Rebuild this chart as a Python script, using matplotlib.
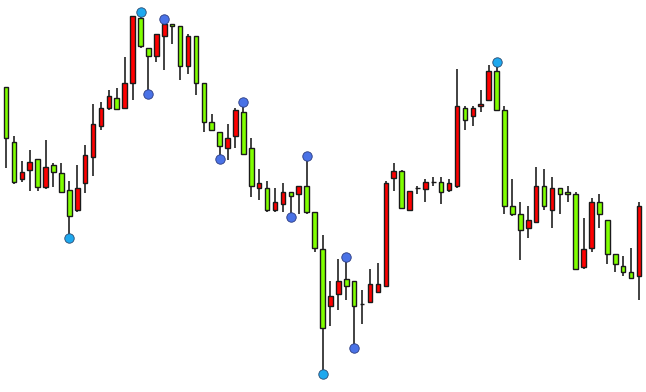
import matplotlib
matplotlib.use("Agg")
import matplotlib.pyplot as plt
import numpy as np

# OHLC series (price units)
opens = [305.3, 250.3, 212.7, 222.3, 232.7, 205.3, 226.7, 218.7, 201.7, 181.7,
         208.7, 234.7, 266.0, 283.7, 293.7, 283.7, 308.7, 373.7, 343.7, 336.3,
         356.0, 368.0, 366.0, 326.3, 356.3, 308.7, 270.0, 260.0, 244.3, 256.0,
         280.0, 244.3, 203.7, 203.7, 181.7, 187.7, 199.7, 197.7, 205.7, 179.7,
         142.7, 86.0, 98.0, 113.0, 111.0, 88.0, 89.7, 99.7, 105.7, 214.3,
         220.7, 181.7, 203.7, 203.3, 210.3, 210.3, 201.7, 205.7, 283.7, 275.7,
         285.7, 291.7, 320.7, 281.7, 185.7, 177.7, 163.7, 169.7, 205.7, 181.7,
         203.7, 199.7, 197.7, 124.7, 144.3, 189.7, 171.7, 138.3, 126.3, 120.3,
         116.3]
highs = [305.3, 256.3, 230.7, 242.3, 232.7, 252.3, 228.7, 228.7, 210.7, 226.7,
         246.7, 287.7, 289.7, 302.0, 303.7, 334.7, 376.0, 380.3, 344.3, 358.3,
         373.0, 368.0, 366.0, 358.3, 356.3, 308.7, 278.3, 260.0, 268.3, 283.7,
         290.0, 254.3, 222.7, 211.0, 203.7, 209.0, 199.7, 205.7, 236.3, 179.7,
         156.7, 111.0, 133.0, 135.0, 111.0, 101.7, 123.0, 129.0, 210.7, 228.7,
         222.0, 201.3, 206.0, 212.7, 214.7, 214.7, 212.7, 322.7, 285.7, 285.7,
         301.7, 326.7, 330.0, 285.7, 212.7, 189.7, 185.7, 224.7, 222.7, 214.7,
         203.7, 205.7, 199.7, 174.0, 193.7, 197.7, 171.7, 138.3, 136.3, 144.3,
         190.3]
lows = [224.3, 208.3, 210.0, 201.3, 201.3, 203.3, 205.3, 199.7, 153.7, 179.7,
        199.3, 216.3, 262.0, 281.7, 281.7, 283.7, 291.7, 343.7, 297.7, 330.0,
        322.0, 347.7, 312.0, 318.0, 297.3, 259.7, 262.0, 233.0, 232.3, 244.3,
        238.3, 195.3, 191.7, 179.7, 179.7, 179.7, 175.0, 177.7, 177.7, 139.7,
        18.0, 66.0, 81.7, 91.7, 44.3, 68.0, 89.7, 99.7, 105.7, 201.3,
        183.7, 181.7, 197.7, 189.7, 205.7, 187.7, 199.7, 203.7, 261.7, 265.7,
        279.7, 291.7, 281.7, 177.7, 175.7, 131.7, 153.7, 169.7, 181.7, 163.7,
        177.7, 189.7, 122.7, 122.7, 139.7, 163.7, 128.3, 120.3, 116.3, 114.3,
        91.7]
closes = [254.3, 210.3, 220.3, 230.3, 205.3, 224.7, 220.3, 199.7, 175.7, 203.7,
          236.7, 268.0, 284.0, 295.7, 283.3, 308.7, 376.0, 346.0, 336.3, 358.0,
          367.7, 366.0, 326.3, 356.0, 308.7, 269.7, 262.0, 246.0, 254.3, 282.0,
          238.3, 205.7, 209.0, 181.7, 189.7, 199.7, 195.7, 205.7, 179.7, 143.7,
          64.3, 96.0, 111.0, 105.7, 86.0, 88.0, 107.7, 107.7, 209.0, 220.7,
          183.7, 201.3, 203.7, 210.3, 210.3, 199.7, 208.7, 285.7, 271.7, 283.7,
          287.7, 320.7, 281.7, 185.7, 177.7, 161.7, 171.7, 205.7, 185.7, 203.7,
          197.7, 197.7, 122.7, 142.7, 189.7, 177.7, 138.3, 128.3, 120.3, 114.3,
          185.7]

# swing points: bar index lists
major_tops = [17, 62]
major_bottoms = [8, 40]
minor_tops = [20, 30, 38, 43]
minor_bottoms = [18, 27, 36, 44]

UP_COLOR = "#ff0000"
DOWN_COLOR = "#80ff00"
WICK_COLOR = "#333333"
MAJOR_COLOR = "#1ea8ee"
MINOR_COLOR = "#4a72e6"

o = np.array(opens)
h = np.array(highs)
l = np.array(lows)
c = np.array(closes)
x = np.arange(len(o))

fig = plt.figure(figsize=(6.46, 3.92), dpi=100)
ax = fig.add_axes([0, 0, 1, 1])
ax.set_facecolor("white")

ax.vlines(x, l, h, color=WICK_COLOR, linewidth=1.3, zorder=1)

colors = [UP_COLOR if cc >= oo else DOWN_COLOR for oo, cc in zip(o, c)]
bottoms = np.minimum(o, c)
heights = np.abs(c - o)
ax.bar(x, heights, bottom=bottoms, width=0.58, color=colors,
       edgecolor="#1a1a1a", linewidth=1.0, zorder=2)

ms = 6.8
ax.plot(major_tops, h[major_tops], "o", color=MAJOR_COLOR, markersize=ms,
        markeredgecolor="#2a4a70", markeredgewidth=0.6, zorder=3)
ax.plot(major_bottoms, l[major_bottoms], "o", color=MAJOR_COLOR, markersize=ms,
        markeredgecolor="#2a4a70", markeredgewidth=0.6, zorder=3)
ax.plot(minor_tops, h[minor_tops], "o", color=MINOR_COLOR, markersize=ms,
        markeredgecolor="#2a3a80", markeredgewidth=0.6, zorder=3)
ax.plot(minor_bottoms, l[minor_bottoms], "o", color=MINOR_COLOR, markersize=ms,
        markeredgecolor="#2a3a80", markeredgewidth=0.6, zorder=3)

step = 633 / 80
x0 = -6 / step
ax.set_xlim(x0, x0 + 646 / step)
ax.set_ylim(0, 392)
ax.axis("off")

fig.savefig("out.png", dpi=100, facecolor="white")
